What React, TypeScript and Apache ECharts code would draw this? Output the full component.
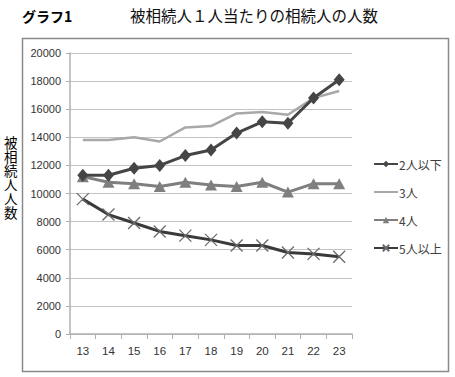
import React, { useEffect, useRef } from "react";
import * as echarts from "echarts";

const years = ["13", "14", "15", "16", "17", "18", "19", "20", "21", "22", "23"];
const s2orLess = [11300, 11300, 11800, 12000, 12700, 13100, 14300, 15100, 15000, 16800, 18100];
const s3 = [13800, 13800, 14000, 13700, 14700, 14800, 15700, 15800, 15600, 16800, 17300];
const s4 = [11200, 10800, 10700, 10500, 10800, 10600, 10500, 10800, 10100, 10700, 10700];
const s5orMore = [9600, 8500, 7900, 7300, 7000, 6700, 6300, 6300, 5800, 5700, 5500];
const seriesNames = ["2人以下", "3人", "4人", "5人以上"];
const yAxisName = "被相続人人数";

const FONT = "'Noto Sans CJK JP', 'Liberation Sans', sans-serif";
const XMARK = "path://M0,0L10,10M10,0L0,10";

export default function App() {
  const ref = useRef<HTMLDivElement>(null);
  useEffect(() => {
    const chart = echarts.init(ref.current!, null, { renderer: "svg" });
    const nameChars = yAxisName.split("").map((ch, i) => ({
      type: "text",
      x: 4,
      y: 137 + i * 14,
      style: {
        text: ch,
        fontSize: 13.5,
        lineHeight: 13.5,
        fill: "#000",
        fontFamily: "'Liberation Sans', 'Noto Sans CJK JP', sans-serif",
      },
    }));
    chart.setOption({
      animation: false,
      backgroundColor: "#ffffff",
      textStyle: { fontFamily: FONT },
      graphic: [
        {
          type: "rect",
          shape: { x: 22.5, y: 38.5, width: 426, height: 333 },
          style: { fill: "none", stroke: "#8a8a8a", lineWidth: 1.5 },
          silent: true,
        },
        {
          type: "text",
          x: 22,
          y: 9,
          style: { text: "グラフ1", fontSize: 14, fontWeight: "bold", fill: "#000", fontFamily: FONT },
        },
        {
          type: "text",
          x: 130,
          y: 7,
          style: { text: "被相続人１人当たりの相続人の人数", fontSize: 15.5, fill: "#111", fontFamily: FONT },
        },
        ...nameChars,
      ],
      legend: {
        orient: "vertical",
        left: 368,
        top: 153,
        itemWidth: 24,
        itemHeight: 8,
        itemGap: 16,
        data: [
          { name: seriesNames[0] },
          { name: seriesNames[1], itemStyle: { opacity: 0 } },
          { name: seriesNames[2] },
          { name: seriesNames[3] },
        ],
        textStyle: { fontSize: 12, color: "#404040", fontFamily: FONT, padding: [0, 0, 0, -4] },
      },
      grid: { left: 70, right: 103, top: 53, bottom: 43 },
      xAxis: {
        type: "category",
        data: years,
        boundaryGap: true,
        axisLine: { lineStyle: { color: "#b0b0b0", width: 1.5 } },
        axisTick: { show: true, length: 5, lineStyle: { color: "#b0b0b0" } },
        axisLabel: { fontSize: 11.5, color: "#333", margin: 11, fontFamily: "'Liberation Sans', sans-serif" },
      },
      yAxis: {
        type: "value",
        min: 0,
        max: 20000,
        interval: 2000,
        axisLine: { show: true, lineStyle: { color: "#b0b0b0", width: 1.5 } },
        axisTick: { show: true, length: 4, lineStyle: { color: "#b0b0b0" } },
        axisLabel: {
          fontSize: 11,
          color: "#333",
          margin: 9,
          fontFamily: "'Liberation Sans', sans-serif",
          formatter: (v: number) => String(v),
        },
        splitLine: { lineStyle: { color: "#c4c4c4", width: 1.2 } },
      },
      series: [
        {
          name: seriesNames[0],
          type: "line",
          data: s2orLess,
          symbol: "diamond",
          symbolSize: [11, 13],
          lineStyle: { color: "#454545", width: 3 },
          itemStyle: { color: "#454545" },
          z: 4,
        },
        {
          name: seriesNames[1],
          type: "line",
          data: s3,
          symbol: "none",
          lineStyle: { color: "#a8a8a8", width: 2.5 },
          itemStyle: { color: "#a8a8a8" },
          z: 3,
        },
        {
          name: seriesNames[2],
          type: "line",
          data: s4,
          symbol: "triangle",
          symbolSize: [12, 11],
          lineStyle: { color: "#7f7f7f", width: 3 },
          itemStyle: { color: "#7f7f7f" },
          z: 2,
        },
        {
          name: seriesNames[3],
          type: "line",
          data: s5orMore,
          symbol: XMARK,
          symbolSize: 12,
          lineStyle: { color: "#3a3a3a", width: 3 },
          itemStyle: { color: "#3a3a3a", borderColor: "#6a6a6a", borderWidth: 1.3 },
          z: 2,
        },
      ],
    });
    return () => chart.dispose();
  }, []);
  return (
    <div
      ref={ref}
      style={{ position: "fixed", left: 0, top: 0, width: 455, height: 377 }}
    />
  );
}
